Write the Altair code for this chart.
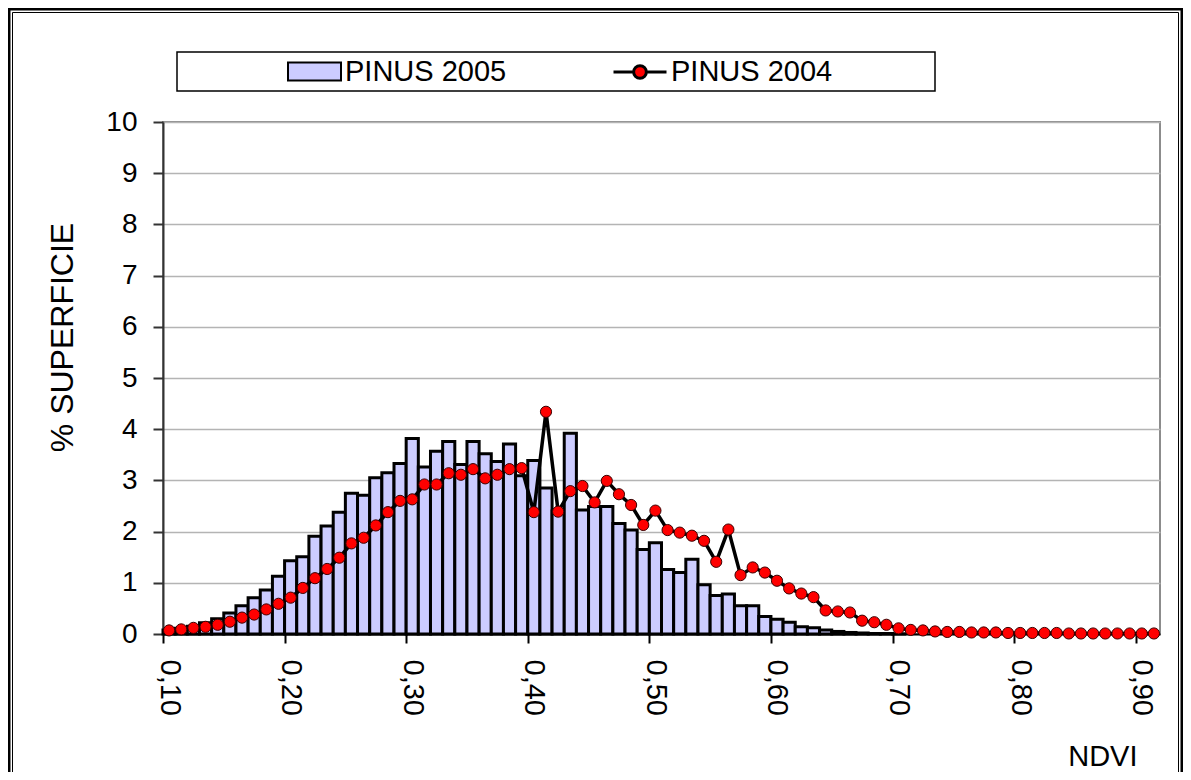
import altair as alt
import pandas as pd

ndvi = [0.10, 0.11, 0.12, 0.13, 0.14, 0.15, 0.16, 0.17, 0.18, 0.19,
        0.20, 0.21, 0.22, 0.23, 0.24, 0.25, 0.26, 0.27, 0.28, 0.29,
        0.30, 0.31, 0.32, 0.33, 0.34, 0.35, 0.36, 0.37, 0.38, 0.39,
        0.40, 0.41, 0.42, 0.43, 0.44, 0.45, 0.46, 0.47, 0.48, 0.49,
        0.50, 0.51, 0.52, 0.53, 0.54, 0.55, 0.56, 0.57, 0.58, 0.59,
        0.60, 0.61, 0.62, 0.63, 0.64, 0.65, 0.66, 0.67, 0.68, 0.69,
        0.70, 0.71, 0.72, 0.73, 0.74, 0.75, 0.76, 0.77, 0.78, 0.79,
        0.80, 0.81, 0.82, 0.83, 0.84, 0.85, 0.86, 0.87, 0.88, 0.89,
        0.90, 0.91]

pinus_2005 = [0.08, 0.11, 0.15, 0.22, 0.30, 0.41, 0.55, 0.71, 0.86, 1.13,
              1.43, 1.51, 1.91, 2.11, 2.38, 2.75, 2.71, 3.05, 3.15, 3.33,
              3.82, 3.26, 3.57, 3.76, 3.31, 3.76, 3.52, 3.37, 3.71, 3.09,
              3.39, 2.85, 2.40, 3.92, 2.42, 2.49, 2.49, 2.16, 2.03, 1.65,
              1.78, 1.26, 1.20, 1.46, 0.96, 0.75, 0.78, 0.55, 0.55, 0.34,
              0.29, 0.23, 0.14, 0.12, 0.08, 0.05, 0.03, 0.02, 0.01, 0.01,
              0.005, 0, 0, 0, 0, 0, 0, 0, 0, 0,
              0, 0, 0, 0, 0, 0, 0, 0, 0, 0,
              0, 0]

pinus_2004 = [0.07, 0.09, 0.12, 0.14, 0.18, 0.24, 0.32, 0.38, 0.48, 0.59,
              0.71, 0.90, 1.09, 1.27, 1.49, 1.77, 1.88, 2.12, 2.38, 2.60,
              2.63, 2.92, 2.92, 3.14, 3.11, 3.22, 3.04, 3.11, 3.22, 3.24,
              2.38, 4.34, 2.39, 2.79, 2.89, 2.57, 2.99, 2.73, 2.52, 2.13,
              2.41, 2.03, 1.98, 1.92, 1.82, 1.41, 2.04, 1.15, 1.30, 1.20,
              1.04, 0.89, 0.79, 0.72, 0.46, 0.44, 0.42, 0.26, 0.23, 0.18,
              0.11, 0.08, 0.07, 0.05, 0.04, 0.04, 0.03, 0.03, 0.03, 0.02,
              0.02, 0.02, 0.02, 0.02, 0.01, 0.01, 0.01, 0.01, 0.01, 0.01,
              0.01, 0.01]

series_2005 = "PINUS 2005"
series_2004 = "PINUS 2004"
x_tick_values = [0.095, 0.195, 0.295, 0.395, 0.495, 0.595, 0.695, 0.795, 0.895]
y_tick_values = [0, 1, 2, 3, 4, 5, 6, 7, 8, 9, 10]

df = pd.DataFrame({"ndvi": ndvi, "p2005": pinus_2005, "p2004": pinus_2004})

x_scale = alt.Scale(domain=[0.095, 0.915], nice=False, zero=False)
y_scale = alt.Scale(domain=[0, 10], nice=False)

x_axis = alt.Axis(
    values=x_tick_values,
    labelExpr="replace(format(datum.value + 0.005, '.2f'), '.', ',')",
    labelAngle=90, labelAlign="left", labelBaseline="middle",
    labelPadding=16, labelOffset=6, labelFontSize=29, labelColor="black",
    labelOverlap=False, labelFlush=False,
    tickSize=9, tickWidth=2, tickColor="black",
    domainColor="black", domainWidth=2, grid=False,
    title="NDVI", titleFontSize=29, titleFontWeight="normal", titleColor="black",
    titleX=974, titleY=131, titleAlign="right", titleBaseline="alphabetic", titleAngle=0,
)

y_axis = alt.Axis(
    values=y_tick_values, labelFontSize=28, labelColor="black", labelPadding=16,
    tickSize=10, tickWidth=2, tickColor="#333333",
    domainColor="#333333", domainWidth=2,
    grid=True, gridColor="#b4b4b4", gridWidth=1.5,
    title="% SUPERFICIE", titleFontSize=32, titleFontWeight="normal", titleColor="black",
    titleX=-91, titleY=215, titleAngle=270, titleAlign="center", titleBaseline="alphabetic",
)

legend_2005 = alt.Legend(
    orient="none", legendX=124, legendY=-78, direction="horizontal", title=None,
    padding=0, symbolSize=2809, labelFontSize=29, labelOffset=3, labelLimit=400,
    labelColor="black",
    symbolType="M-1,-0.34H1V0.34H-1Z",
    symbolStrokeColor="black", symbolStrokeWidth=2, symbolOpacity=1,
)

legend_2004 = alt.Legend(
    orient="none", legendX=449, legendY=-78, direction="horizontal", title=None,
    padding=0, symbolSize=2809, labelFontSize=29, labelOffset=3, labelLimit=400,
    labelColor="black",
    symbolType="M-1,0H-0.24M0.24,0H1M-0.24,0A0.24,0.24 0 1,0 0.24,0A0.24,0.24 0 1,0 -0.24,0Z",
    symbolStrokeColor="black", symbolStrokeWidth=3, symbolOpacity=1,
)

base = alt.Chart(df)

bars = base.transform_filter("datum.p2005 > 0").transform_calculate(
    x0="datum.ndvi - 0.005", x1="datum.ndvi + 0.005", s5="'PINUS 2005'"
).mark_rect(stroke="black", strokeWidth=3, opacity=1).encode(
    x=alt.X("x0:Q", scale=x_scale, axis=x_axis),
    x2="x1:Q",
    y=alt.Y("p2005:Q", scale=y_scale, axis=y_axis),
    y2=alt.datum(0),
    fill=alt.Fill("s5:N", scale=alt.Scale(domain=[series_2005], range=["#ccccff"]), legend=legend_2005),
)

line = base.mark_line(color="black", strokeWidth=3.5).encode(
    x=alt.X("ndvi:Q", scale=x_scale, axis=x_axis),
    y=alt.Y("p2004:Q", scale=y_scale, axis=y_axis),
)

points = base.transform_calculate(s4="'PINUS 2004'").mark_circle(
    stroke="#3a0000", strokeWidth=1, size=125, opacity=1
).encode(
    x=alt.X("ndvi:Q", scale=x_scale, axis=x_axis),
    y=alt.Y("p2004:Q", scale=y_scale, axis=y_axis),
    color=alt.Color("s4:N", scale=alt.Scale(domain=[series_2004], range=["#ff0000"]), legend=legend_2004),
)

deco = pd.DataFrame({"k": [0]})
outer_frame = alt.Chart(deco).mark_rect(fill="transparent", stroke="black", strokeWidth=3).encode(
    x=alt.value(-154), x2=alt.value(1019), y=alt.value(-113), y2=alt.value(700))
inner_frame = alt.Chart(deco).mark_rect(fill="transparent", stroke="black", strokeWidth=1).encode(
    x=alt.value(-150.5), x2=alt.value(1015.5), y=alt.value(-109.5), y2=alt.value(700))
legend_box = alt.Chart(deco).mark_rect(fill="transparent", stroke="black", strokeWidth=1.5).encode(
    x=alt.value(14), x2=alt.value(772), y=alt.value(-70), y2=alt.value(-31))

chart = alt.layer(outer_frame, inner_frame, legend_box, bars, line, points).properties(
    width=997, height=512,
    autosize=alt.AutoSizeParams(type="none"),
    padding={"left": 155, "top": 114, "right": 23, "bottom": 138},
).configure(font="Liberation Sans").configure_view(stroke="#8c8c8c", strokeWidth=2)

chart.save("out.html", embed_options={"renderer": "svg", "actions": False})
